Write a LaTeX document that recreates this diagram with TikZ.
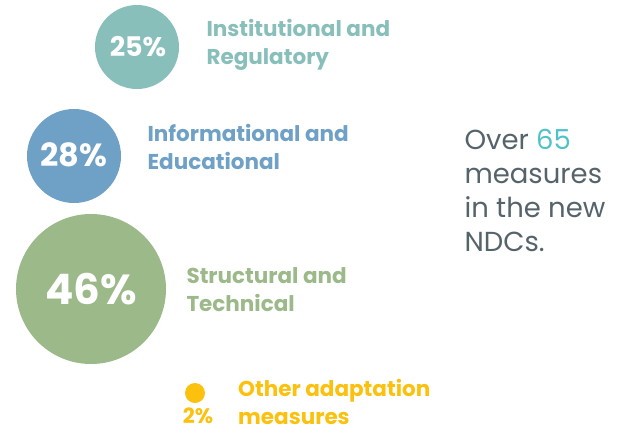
\documentclass[tikz,border=0pt]{standalone}
\usepackage{fontspec}
\setmainfont{Poppins}
\definecolor{instcol}{HTML}{88BFBA}
\definecolor{infocol}{HTML}{6FA0C5}
\definecolor{strucol}{HTML}{9CB98A}
\definecolor{othcol}{HTML}{FCC10F}
\definecolor{greytext}{HTML}{55636B}
\definecolor{tealtext}{HTML}{4DC3C8}
\tikzset{
  pct/.style={text=white,font=\bfseries},
  lbl/.style={anchor=west,align=left,font=\bfseries\fontsize{21.5}{28}\selectfont}
}
\begin{document}
\begin{tikzpicture}[x=1pt,y=-1pt]
  \useasboundingbox (0,0) rectangle (625,432);
  % bubbles
  \fill[instcol] (137,47) circle (42);
  \fill[infocol] (74,156) circle (47);
  \fill[strucol] (91,289) circle (75);
  \fill[othcol] (195,393) circle (10);
  \node[pct,font=\bfseries\fontsize{27}{30}\selectfont] (inst) at (138,47) {25\%};
  \node[pct,font=\bfseries\fontsize{32}{36}\selectfont] (info) at (74,155) {28\%};
  \node[pct,font=\bfseries\fontsize{42}{48}\selectfont] (stru) at (91,289) {46\%};
  \node[text=othcol,inner sep=0pt,font=\bfseries\fontsize{21}{24}\selectfont] (oth) at (198,416) {2\%};
  % labels
  \node[lbl,text=instcol] (instlbl) at (203,45) {Institutional and\\Regulatory};
  \node[lbl,text=infocol] (infolbl) at (144,147) {Informational and\\Educational};
  \node[lbl,text=strucol] (strulbl) at (183,290) {Structural and\\Technical};
  \node[lbl,text=othcol,inner sep=0pt,font=\bfseries\fontsize{21.5}{28}\selectfont] (othlbl) at (238,402) {Other adaptation\\measures};
  % summary
  \node[anchor=west,align=left,text=greytext,font=\fontsize{27.5}{34}\selectfont] (total) at (461,190)
    {Over \textcolor{tealtext}{65}\\measures\\in the new\\NDCs.};
\end{tikzpicture}
\end{document}
